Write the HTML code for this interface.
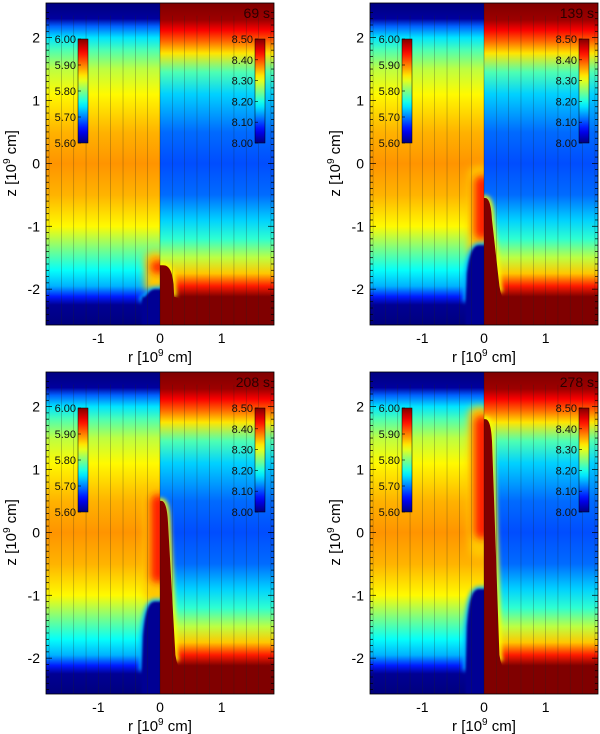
<!DOCTYPE html>
<html><head><meta charset="utf-8"><style>
html,body{margin:0;padding:0;background:#fff;}
svg{display:block;font-family:"Liberation Sans",Arial,sans-serif;}
</style></head><body>
<svg id="fig" width="600" height="734" viewBox="0 0 600 734" xmlns="http://www.w3.org/2000/svg">
<defs id="defs">
<filter id="blur2" x="-50%" y="-50%" width="200%" height="200%"><feGaussianBlur stdDeviation="2"/></filter>
<filter id="blur4" x="-50%" y="-50%" width="200%" height="200%"><feGaussianBlur stdDeviation="4"/></filter>
<filter id="blur1" x="-50%" y="-50%" width="200%" height="200%"><feGaussianBlur stdDeviation="1"/></filter>
</defs>
</svg>
<script>
// ---- data ----
const times = [69, 139, 208, 278];
const plumeTopZ = [-1.62, -0.55, 0.5, 1.8];      // top of hot tongue on right
const bumpTopZ = [-2.0, -1.3, -1.1, -0.9];        // top of navy bump on left
const stripTopZ = [-1.55, -0.2, 0.6, 1.85];       // left red strip top
const stripBotZ = [-1.75, -1.2, -0.8, -0.1];      // left red strip bottom
const leftProfZ = [2.55, 2.3, 2.18, 2.0, 1.8, 1.5, 1.1, 0.5, 0.0, -0.5, -1.0, -1.4, -1.7, -1.95, -2.12, -2.25, -2.55];
const leftProfV = [0.0, 0.03, 0.22, 0.35, 0.45, 0.56, 0.63, 0.7, 0.73, 0.7, 0.63, 0.48, 0.38, 0.3, 0.15, 0.02, 0.0];
const rightProfZ = [2.55, 2.28, 2.12, 1.95, 1.75, 1.45, 1.1, 0.5, 0.0, -0.5, -0.9, -1.2, -1.5, -1.75, -1.95, -2.12, -2.55];
const rightProfV = [1.0, 0.97, 0.88, 0.78, 0.65, 0.45, 0.33, 0.23, 0.2, 0.23, 0.33, 0.42, 0.56, 0.68, 0.85, 1.0, 1.0];
const xTicks = [-1, 0, 1];
const yTicks = [2, 1, 0, -1, -2];
const cbLeftLabels = ["6.00", "5.90", "5.80", "5.70", "5.60"];
const cbRightLabels = ["8.50", "8.40", "8.30", "8.20", "8.10", "8.00"];

const NS = "http://www.w3.org/2000/svg";
const svg = document.getElementById('fig');
const defs = document.getElementById('defs');
function el(tag, attrs, parent) {
  const e = document.createElementNS(NS, tag);
  for (const k in attrs) e.setAttribute(k, attrs[k]);
  (parent || svg).appendChild(e);
  return e;
}
function jet(v) {
  v = Math.max(0, Math.min(1, v));
  const r = Math.max(0, Math.min(1, 1.5 - Math.abs(4 * v - 3)));
  const g = Math.max(0, Math.min(1, 1.5 - Math.abs(4 * v - 2)));
  const b = Math.max(0, Math.min(1, 1.5 - Math.abs(4 * v - 1)));
  return `rgb(${Math.round(r * 255)},${Math.round(g * 255)},${Math.round(b * 255)})`;
}
const Z0 = 2.55, Z1 = -2.57, R0 = -1.85, R1 = 1.85;
function makeProfGrad(id, zs, vs) {
  const g = el('linearGradient', {id: id, x1: 0, y1: 0, x2: 0, y2: 1}, defs);
  for (let i = 0; i < zs.length; i++) {
    el('stop', {offset: ((Z0 - zs[i]) / (Z0 - Z1)).toFixed(4), 'stop-color': jet(vs[i])}, g);
  }
}
makeProfGrad('gl', leftProfZ, leftProfV);
makeProfGrad('gr', rightProfZ, rightProfV);
const cbg = el('linearGradient', {id: 'gcb', x1: 0, y1: 1, x2: 0, y2: 0}, defs);
for (let i = 0; i <= 20; i++) el('stop', {offset: i / 20, 'stop-color': jet(i / 20)}, cbg);

function panel(idx) {
  const col = idx % 2, row = Math.floor(idx / 2);
  const x0 = 46 + 324 * col, y0 = 3 + 369 * row, W = 228, H = 322;
  const xr = r => x0 + (r - R0) / (R1 - R0) * W;
  const zy = z => y0 + (Z0 - z) / (Z0 - Z1) * H;
  const g = el('g', {});
  
  
  const cid = 'clip' + idx;
  const cp = el('clipPath', {id: cid}, defs);
  el('rect', {x: x0, y: y0, width: W, height: H}, cp);
  const img = el('g', {'clip-path': `url(#${cid})`}, g);
  
  
  const x00 = xr(0);
  el('rect', {x: x0, y: y0, width: x00 - x0, height: H, fill: 'url(#gl)'}, img);
  el('rect', {x: x00, y: y0, width: x0 + W - x00, height: H, fill: 'url(#gr)'}, img);
  const lc = el('clipPath', {id: 'lc' + idx}, defs);
  el('rect', {x: x0, y: y0, width: x00 - x0, height: H}, lc);
  const rc = el('clipPath', {id: 'rc' + idx}, defs);
  el('rect', {x: x00, y: y0, width: x0 + W - x00, height: H}, rc);
  const L = el('g', {'clip-path': `url(#lc${idx})`}, img);
  const R = el('g', {'clip-path': `url(#rc${idx})`}, img);
  // left red strip (soft glow)
  const st = stripTopZ[idx], sb = stripBotZ[idx];
  el('rect', {x: xr(-0.25), y: zy(st + 0.15), width: xr(0.1) - xr(-0.25), height: zy(sb - 0.3) - zy(st + 0.15), rx: 8, fill: jet(0.68), filter: 'url(#blur4)'}, L);
  el('rect', {x: xr(-0.15), y: zy(st), width: xr(0.1) - xr(-0.15), height: zy(sb) - zy(st), rx: 6, fill: jet(0.85), filter: 'url(#blur4)'}, L);
  // left navy bump
  const bt = bumpTopZ[idx];
  const side = Math.max(bt - 0.6, (bt - 2.2) / 2);
  const bumpEdge = `M${xr(0.3)},${zy(bt)} L${xr(-0.08)},${zy(bt)} C${xr(-0.2)},${zy(bt)} ${xr(-0.25)},${zy(bt - 0.2)} ${xr(-0.28)},${zy(side)} L${xr(-0.3)},${zy(-2.2)}`;
  const bump = bumpEdge + ` L${xr(-0.3)},${zy(-3)} L${xr(0.3)},${zy(-3)} Z`;
  el('path', {d: bumpEdge, fill: 'none', stroke: jet(0.3), 'stroke-width': 5, filter: 'url(#blur2)'}, L);
  el('path', {d: bump, fill: jet(0.02), filter: 'url(#blur1)'}, L);
  // right hot tongue
  const pt = plumeTopZ[idx];
  const early = pt < -1.5;
  const edge = early
    ? `M${xr(-0.3)},${zy(pt)} L${xr(0.05)},${zy(pt)} C${xr(0.15)},${zy(pt)} ${xr(0.2)},${zy(pt - 0.1)} ${xr(0.22)},${zy(pt - 0.3)} L${xr(0.23)},${zy(-2.12)}`
    : `M${xr(-0.3)},${zy(pt)} L${xr(0.02)},${zy(pt)} C${xr(0.09)},${zy(pt)} ${xr(0.12)},${zy(pt - 0.15)} ${xr(0.13)},${zy(pt - 0.35)} L${xr(0.25)},${zy(-1.95)} L${xr(0.27)},${zy(-2.05)}`;
  const tongue = edge + ` L${xr(0.3)},${zy(-2.14)} L${xr(0.3)},${zy(-3)} L${xr(-0.3)},${zy(-3)} Z`;
  el('path', {d: edge, fill: 'none', stroke: jet(0.62), 'stroke-width': 5, filter: 'url(#blur2)'}, R);
  el('path', {d: tongue, fill: jet(1.0)}, R);
  // vertical grid lines
  for (let k = -9; k <= 9; k++) {
    if (k === 0) continue;
    const r = k * 0.2;
    el('line', {x1: xr(r), x2: xr(r), y1: zy(2.35), y2: y0 + H, stroke: '#222', 'stroke-width': 0.6, 'stroke-opacity': 0.4}, img);
  }
  el('line', {x1: xr(0), x2: xr(0), y1: y0, y2: y0 + H, stroke: '#111', 'stroke-width': 0.6, 'stroke-opacity': 0.5}, img);
  // frame + ticks
  el('rect', {x: x0, y: y0, width: W, height: H, fill: 'none', stroke: '#000', 'stroke-width': 0.8}, g);
  for (let z = -2.5; z <= 2.5; z += 0.1) {
    const major = Math.abs(z - Math.round(z)) < 0.01;
    const len = major ? 6 : 3;
    el('line', {x1: x0, x2: x0 + len, y1: zy(z), y2: zy(z), stroke: '#000', 'stroke-width': 0.7}, g);
    el('line', {x1: x0 + W, x2: x0 + W - len, y1: zy(z), y2: zy(z), stroke: '#000', 'stroke-width': 0.7}, g);
  }
  yTicks.forEach(t => {
    const tx = el('text', {x: x0 - 6, y: zy(t) + 5, 'text-anchor': 'end', 'font-size': 14, fill: '#000'}, g);
    tx.textContent = t;
    
    
  });
  xTicks.forEach(t => {
    const tx = el('text', {x: xr(t), y: y0 + H + 18, 'text-anchor': 'middle', 'font-size': 14, fill: '#000'}, g);
    tx.textContent = t;
    
    
  });
  const xt = el('text', {x: xr(0), y: y0 + H + 37, 'text-anchor': 'middle', 'font-size': 15, fill: '#000'}, g);
  xt.innerHTML = 'r [10<tspan dy="-6" font-size="10">9</tspan><tspan dy="6"> cm]</tspan>';
  
  
  const yx = x0 - 30, yyc = zy(0);
  const yt = el('text', {x: 0, y: 0, 'text-anchor': 'middle', 'font-size': 15, fill: '#000', transform: `translate(${yx},${yyc}) rotate(-90)`}, g);
  yt.innerHTML = 'z [10<tspan dy="-6" font-size="10">9</tspan><tspan dy="6"> cm]</tspan>';
  
  
  const tl = el('text', {x: x0 + W - 4, y: y0 + 15, 'text-anchor': 'end', 'font-size': 14, fill: '#2a0000'}, g);
  tl.textContent = times[idx] + ' s';
  
  
  const cbTop = y0 + 36, cbH = 104;
  const cbl = el('g', {}, g);
  
  
  el('rect', {x: x0 + 32, y: cbTop, width: 10, height: cbH, fill: 'url(#gcb)', stroke: '#000', 'stroke-width': 0.5}, cbl);
  cbLeftLabels.forEach((s, i) => {
    const yy = cbTop + i * cbH / (cbLeftLabels.length - 1);
    el('line', {x1: x0 + 32, x2: x0 + 35, y1: yy, y2: yy, stroke: '#000', 'stroke-width': 0.6}, cbl);
    const t = el('text', {x: x0 + 30, y: yy + 4, 'text-anchor': 'end', 'font-size': 11, fill: '#111'}, cbl);
    t.textContent = s;
  });
  const cbr = el('g', {}, g);
  
  
  el('rect', {x: x0 + 209, y: cbTop, width: 10, height: cbH, fill: 'url(#gcb)', stroke: '#000', 'stroke-width': 0.5}, cbr);
  cbRightLabels.forEach((s, i) => {
    const yy = cbTop + i * cbH / (cbRightLabels.length - 1);
    el('line', {x1: x0 + 209, x2: x0 + 212, y1: yy, y2: yy, stroke: '#000', 'stroke-width': 0.6}, cbr);
    const t = el('text', {x: x0 + 207, y: yy + 4, 'text-anchor': 'end', 'font-size': 11, fill: '#111'}, cbr);
    t.textContent = s;
  });
}
for (let i = 0; i < times.length; i++) panel(i);
</script>
</body></html>
